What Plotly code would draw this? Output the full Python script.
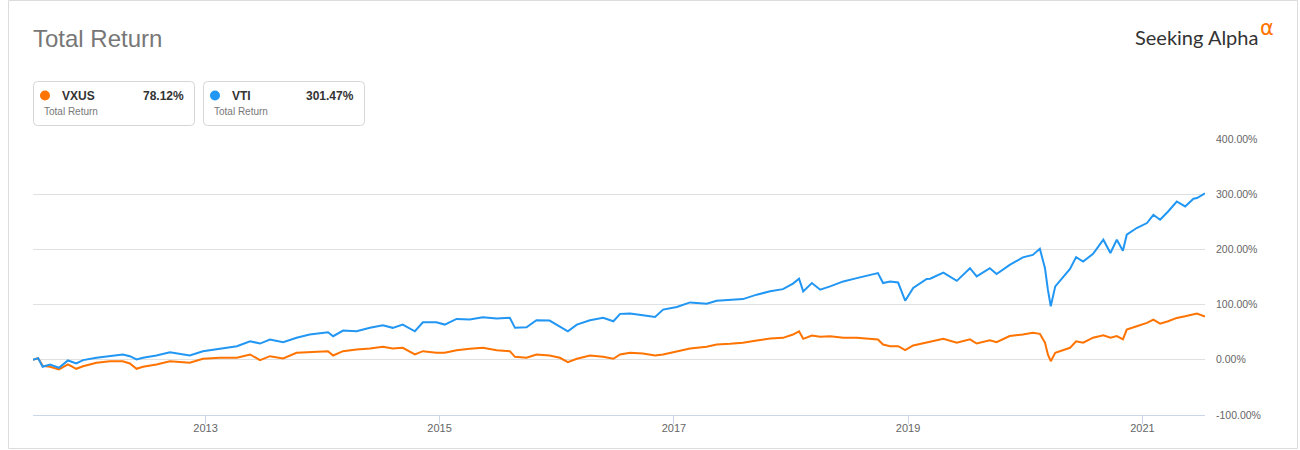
import plotly.graph_objects as go

# ---- data (total return, %) ----
dates = [
    '2011-07-13', '2011-07-29', '2011-08-12', '2011-09-04', '2011-10-02', '2011-10-30',
    '2011-11-25', '2011-12-16', '2012-01-27', '2012-03-09', '2012-04-18', '2012-05-10',
    '2012-05-31', '2012-06-20', '2012-08-01', '2012-09-12', '2012-11-13', '2012-12-24',
    '2013-02-15', '2013-04-09', '2013-05-20', '2013-06-20', '2013-07-21', '2013-08-31',
    '2013-10-12', '2013-11-22', '2014-01-18', '2014-02-03', '2014-03-06', '2014-04-17',
    '2014-05-29', '2014-07-08', '2014-08-08', '2014-09-08', '2014-10-16', '2014-11-10',
    '2014-12-22', '2015-01-17', '2015-02-23', '2015-04-05', '2015-05-16', '2015-06-28',
    '2015-08-08', '2015-08-24', '2015-09-29', '2015-10-30', '2015-12-10', '2016-01-11',
    '2016-02-05', '2016-03-04', '2016-04-14', '2016-05-25', '2016-06-26', '2016-07-17',
    '2016-08-17', '2016-09-26', '2016-11-03', '2016-11-28', '2017-01-10', '2017-02-20',
    '2017-04-13', '2017-05-14', '2017-06-25', '2017-08-04', '2017-09-16', '2017-10-28',
    '2017-12-07', '2018-01-07', '2018-01-26', '2018-02-08', '2018-03-07', '2018-04-02',
    '2018-05-03', '2018-06-13', '2018-07-25', '2018-09-04', '2018-09-29', '2018-10-15',
    '2018-11-06', '2018-12-01', '2018-12-23', '2019-01-17', '2019-02-28', '2019-03-11',
    '2019-04-21', '2019-06-02', '2019-07-13', '2019-08-03', '2019-09-13', '2019-10-04',
    '2019-11-14', '2019-12-25', '2020-01-25', '2020-02-16', '2020-03-03', '2020-03-12',
    '2020-03-21', '2020-04-04', '2020-04-30', '2020-05-20', '2020-06-08', '2020-06-30',
    '2020-07-31', '2020-09-01', '2020-09-23', '2020-10-13', '2020-11-01', '2020-11-13',
    '2020-12-14', '2021-01-15', '2021-02-04', '2021-02-25', '2021-03-22', '2021-04-18',
    '2021-05-14', '2021-06-09', '2021-06-20', '2021-07-15',
]

vxus = [
    0, 3, -11, -12.7, -17.5, -8.4,
    -16.3, -11.6, -5.4, -2.5, -2.5, -6.7,
    -16.3, -12.7, -8.4, -2.5, -5.4, 1.8,
    3.6, 3.6, 9.6, -0.6, 6.6, 2.4,
    12.6, 13.8, 15.6, 7.8, 15.6, 18.6,
    20.4, 23.5, 20.4, 21.7, 9.6, 15.6,
    12.7, 12.7, 17.4, 20, 21.7, 17.4,
    15.6, 5.4, 3.6, 9.6, 7.8, 3.6,
    -4.3, 1.8, 7.8, 5.4, 1.8, 9.6,
    12.7, 11.4, 7.8, 9.6, 15.6, 20.4,
    23.5, 27.7, 28.9, 30.7, 34.9, 38.5,
    39.8, 45.7, 51.7, 38, 44, 41.6,
    42.7, 39.8, 39.8, 38, 36.7, 27.7,
    24.6, 24.6, 17.4, 25.9, 31.8, 32.5,
    38, 31, 37, 29.5, 35.5, 32,
    43, 46, 49, 47, 31, 9.6,
    -2.5, 12.7, 18.6, 21.7, 33.6, 31,
    40, 44.5, 40, 43, 37, 54.8,
    60.8, 66.9, 72.9, 65.6, 69.8, 75.9,
    78.8, 81.9, 83.7, 78.12,
]

vti = [
    0, 3, -12.7, -8.4, -14.5, -1.2,
    -6.7, -0.6, 3.6, 6.6, 9.6, 6.6,
    0.6, 3.6, 7.8, 13.8, 7.8, 15.6,
    19.8, 24.6, 33.7, 29.4, 36.7, 31.8,
    39.8, 45.9, 50, 42.7, 53, 51.7,
    57.9, 62.6, 57.9, 63.8, 51.7, 68,
    68, 63.8, 74.1, 73, 77, 75,
    76, 57.9, 59, 71.6, 71, 60.8,
    51.7, 63.8, 71.6, 76, 69.8, 83.2,
    83.7, 80.7, 77.7, 91, 95.8, 104,
    101.6, 107, 109, 110, 118, 124,
    128, 138, 147, 124, 139, 127,
    133, 142, 148, 154, 157, 139,
    142, 140, 107, 130, 146.5, 147,
    158, 143, 166, 151, 166, 155.5,
    172, 185.5, 190, 201, 166, 127,
    97, 133, 151, 164.5, 186, 178,
    192, 217.5, 193.5, 217.5, 197.6, 226.6,
    238.7, 247.7, 262.7, 253.7, 268.7, 286.8,
    277.8, 291.7, 293, 301.47,
]

names = ['VXUS', 'VTI']
final_returns = ['78.12%', '301.47%']
colors = ['#ff7300', '#2196f3']

y_ticks = [-100, 0, 100, 200, 300, 400]
y_ticktext = ['-100.00%', '0.00%', '100.00%', '200.00%', '300.00%', '400.00%']
x_ticks = ['2013-01-01', '2015-01-01', '2017-01-01', '2019-01-01', '2021-01-01']
x_ticktext = ['2013', '2015', '2017', '2019', '2021']

FONT = 'Liberation Sans, Arial, sans-serif'

# plot area in pixels
L, R, T, B = 33, 1205, 139, 415


def px(x):
    return (x - L) / (R - L)


def py(y):
    return (B - y) / (B - T)


def rounded_box(x0, y0, x1, y1, r):
    pts = [
        'M {},{}'.format(px(x0 + r), py(y0)),
        'L {},{}'.format(px(x1 - r), py(y0)),
        'Q {},{} {},{}'.format(px(x1), py(y0), px(x1), py(y0 + r)),
        'L {},{}'.format(px(x1), py(y1 - r)),
        'Q {},{} {},{}'.format(px(x1), py(y1), px(x1 - r), py(y1)),
        'L {},{}'.format(px(x0 + r), py(y1)),
        'Q {},{} {},{}'.format(px(x0), py(y1), px(x0), py(y1 - r)),
        'L {},{}'.format(px(x0), py(y0 + r)),
        'Q {},{} {},{}'.format(px(x0), py(y0), px(x0 + r), py(y0)),
        'Z',
    ]
    return ' '.join(pts)


fig = go.Figure()

for name, vals, col in zip(names, [vxus, vti], colors):
    fig.add_trace(go.Scatter(x=dates, y=vals, mode='lines', name=name,
                             line=dict(color=col, width=2)))

shapes = []
annotations = []

# outer frame
shapes.append(dict(type='rect', xref='paper', yref='paper',
                   x0=px(8.5), x1=px(1297.5), y0=py(0.5), y1=py(448.5),
                   line=dict(color='#dcdcdc', width=1), layer='below'))

# legend boxes
box_x = [33.5, 203.5]
for i, (name, ret, col) in enumerate(zip(names, final_returns, colors)):
    x0 = box_x[i]
    shapes.append(dict(type='path', xref='paper', yref='paper',
                       path=rounded_box(x0, 81.5, x0 + 161, 125.5, 4),
                       line=dict(color='#d6d6d6', width=1)))
    cx = x0 + 11.5
    shapes.append(dict(type='circle', xref='paper', yref='paper',
                       x0=px(cx - 5), x1=px(cx + 5), y0=py(90.5), y1=py(100.5),
                       fillcolor=col, line=dict(width=0)))
    annotations.append(dict(x=px(x0 + 26), y=py(95.5), xref='paper', yref='paper',
                            text='<b>{}</b>'.format(name), showarrow=False,
                            xanchor='left', yanchor='middle',
                            font=dict(family=FONT, size=12, color='#333333')))
    annotations.append(dict(x=px(x0 + 152), y=py(95.5), xref='paper', yref='paper',
                            text='<b>{}</b>'.format(ret), showarrow=False,
                            xanchor='right', yanchor='middle',
                            font=dict(family=FONT, size=12, color='#333333')))
    annotations.append(dict(x=px(x0 + 8.5), y=py(111.5), xref='paper', yref='paper',
                            text='Total Return', showarrow=False,
                            xanchor='left', yanchor='middle',
                            font=dict(family=FONT, size=10, color='#777777')))

# title
annotations.append(dict(x=px(31), y=py(39), xref='paper', yref='paper',
                        text='Total Return', showarrow=False,
                        xanchor='left', yanchor='middle',
                        font=dict(family=FONT, size=24, color='#777777')))

# logo
annotations.append(dict(x=px(1260), y=py(37), xref='paper', yref='paper',
                        text='Seeking Alpha', showarrow=False,
                        xanchor='right', yanchor='middle',
                        font=dict(family='Lato, sans-serif', size=20, color='#333333')))
annotations.append(dict(x=px(1258), y=py(28), xref='paper', yref='paper',
                        text='α', showarrow=False,
                        xanchor='left', yanchor='middle',
                        font=dict(family='DejaVu Sans, sans-serif', size=21, color='#ff7300')))

fig.update_layout(
    width=1300, height=450,
    margin=dict(l=L, r=1300 - R, t=T, b=450 - B),
    plot_bgcolor='white', paper_bgcolor='white',
    showlegend=False,
    shapes=shapes,
    annotations=annotations,
    font=dict(family=FONT),
)

fig.update_xaxes(type='date', range=['2011-07-13', '2021-07-15'],
                 tickvals=x_ticks, ticktext=x_ticktext,
                 showgrid=False, showline=True, linecolor='#ccd6eb', linewidth=1,
                 ticks='outside', ticklen=8, tickcolor='#ccd6eb',
                 ticklabelstandoff=-5,
                 tickfont=dict(family=FONT, size=11, color='#666666'))

fig.update_yaxes(range=[-100, 400], side='right',
                 tickvals=y_ticks, ticktext=y_ticktext,
                 showgrid=True, gridcolor='#e0e0e0', gridwidth=1,
                 zeroline=False, showline=False, ticks='',
                 ticklabelstandoff=10,
                 tickfont=dict(family=FONT, size=10.5, color='#666666'))

# the page body has a default 8px margin; drop it so the figure sits at (0, 0)
fig.write_html("out.html", config={'displayModeBar': False},
               post_script="document.body.style.margin='0';")
